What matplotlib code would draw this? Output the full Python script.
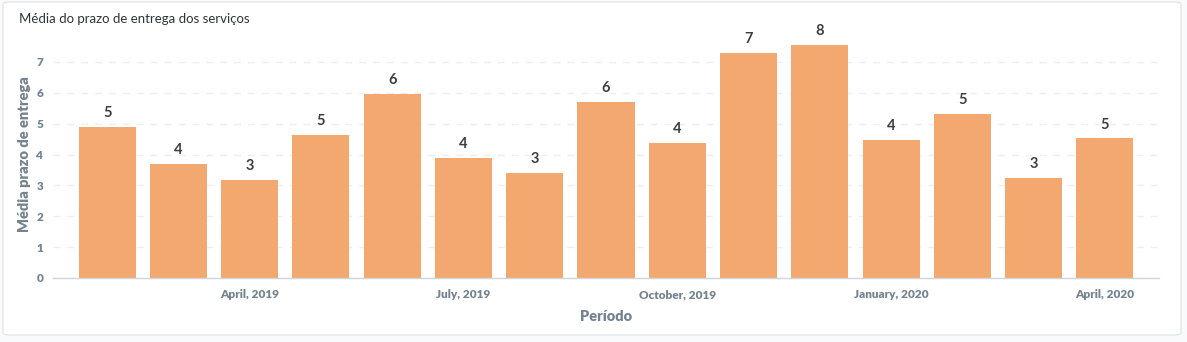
import matplotlib
matplotlib.use("Agg")
import matplotlib.pyplot as plt
from matplotlib.patches import FancyBboxPatch

plt.rcParams['font.family'] = ['Lato', 'DejaVu Sans']

# monthly averages, Feb 2019 .. Apr 2020
months = ['2019-02', '2019-03', '2019-04', '2019-05', '2019-06', '2019-07', '2019-08',
          '2019-09', '2019-10', '2019-11', '2019-12', '2020-01', '2020-02', '2020-03', '2020-04']
prazo = [4.89, 3.69, 3.18, 4.63, 5.96, 3.89, 3.40, 5.70, 4.37, 7.29, 7.55, 4.47, 5.31, 3.24, 4.52]
tick_pos = [2, 5, 8, 11, 14]
tick_labels = ['April, 2019', 'July, 2019', 'October, 2019', 'January, 2020', 'April, 2020']

bar_color = '#F2A86F'
axis_grey = '#74838F'

fig = plt.figure(figsize=(11.87, 3.42), dpi=100)
fig.patch.set_facecolor('#F9FAFB')

# white card behind the chart
card = FancyBboxPatch((3 / 1187, 1 - 335 / 342), 1178 / 1187, 333 / 342,
                      boxstyle='round,pad=0,rounding_size=0.006',
                      transform=fig.transFigure, facecolor='white',
                      edgecolor='#E3E7EB', linewidth=1.0, zorder=-1)
fig.patches.append(card)

fig.text(19 / 1187, 1 - 19 / 342, 'Média do prazo de entrega dos serviços',
         fontsize=9.5, color='#2E353B', va='center', ha='left')

ax = fig.add_axes([53 / 1187, 1 - 278 / 342, 1106 / 1187, 247 / 342])
ax.set_facecolor('none')
ax.set_zorder(2)

x = list(range(len(months)))
ax.bar(x, prazo, width=0.8, color=bar_color, zorder=2)

for xi, v in zip(x, prazo):
    ax.annotate('%d' % int(v + 0.5), (xi, v), xytext=(0, 5), textcoords='offset points',
                ha='center', va='bottom', fontsize=10.5, fontweight='bold',
                color='#3A3F44', clip_on=False)

ax.set_xlim(-0.76, len(months) - 1 + 0.76)
ax.set_ylim(0, 8)
ax.set_yticks(range(0, 8))
ax.set_yticklabels([str(i) for i in range(0, 8)], fontsize=8.5, fontweight='heavy', color=axis_grey)
ax.set_xticks(tick_pos)
ax.set_xticklabels(tick_labels, fontsize=8.5, fontweight='heavy', color=axis_grey)
ax.tick_params(axis='x', length=0, pad=8)
ax.tick_params(axis='y', length=0, pad=7)

ax.grid(axis='y', linestyle=(0, (5, 5)), color='#ECEEF0', linewidth=1, zorder=0)
ax.grid(axis='x', visible=False)

for s in ['top', 'right', 'left']:
    ax.spines[s].set_visible(False)
ax.spines['bottom'].set_color('#CED6DC')
ax.spines['bottom'].set_linewidth(1)

ax.set_xlabel('Período', fontsize=10.5, fontweight='heavy', color=axis_grey, labelpad=7)
ax.set_ylabel('Média prazo de entrega', fontsize=10.5, fontweight='heavy', color=axis_grey, labelpad=4)

fig.savefig('out.png', dpi=100, facecolor=fig.get_facecolor())
